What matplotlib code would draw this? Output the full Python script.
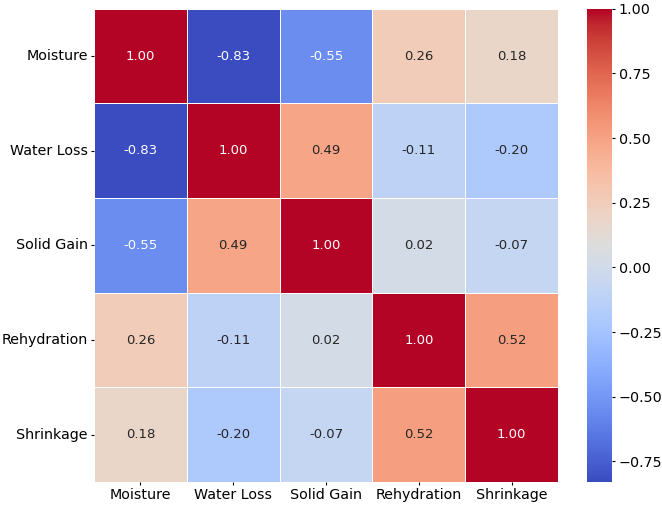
import numpy as np
import matplotlib
matplotlib.use("Agg")
import matplotlib.pyplot as plt
import seaborn as sns

labels = ["Moisture", "Water Loss", "Solid Gain", "Rehydration", "Shrinkage"]
row_moisture = [1.00, -0.83, -0.55, 0.26, 0.18]
row_water_loss = [-0.83, 1.00, 0.49, -0.11, -0.20]
row_solid_gain = [-0.55, 0.49, 1.00, 0.02, -0.07]
row_rehydration = [0.26, -0.11, 0.02, 1.00, 0.52]
row_shrinkage = [0.18, -0.20, -0.07, 0.52, 1.00]

corr = np.array([row_moisture, row_water_loss, row_solid_gain,
                 row_rehydration, row_shrinkage])

fig = plt.figure(figsize=(6.62, 5.05), dpi=100)
ax = fig.add_axes([0.142, 0.0455, 0.701, 0.937])
cax = fig.add_axes([0.887, 0.0455, 0.038, 0.937])

sns.heatmap(corr, annot=True, fmt=".2f", cmap="coolwarm", linewidths=0.5,
            linecolor="white", xticklabels=labels, yticklabels=labels,
            ax=ax, cbar_ax=cax, annot_kws={"size": 9.5})

ax.tick_params(labelsize=10.3, length=2.5, pad=2, width=0.8)
ax.set_yticklabels(labels, rotation=0)
ax.set_xticklabels(labels, rotation=0)
cax.tick_params(labelsize=10.3, length=2.5, pad=2, width=0.8)

fig.savefig("out.png", dpi=100)
